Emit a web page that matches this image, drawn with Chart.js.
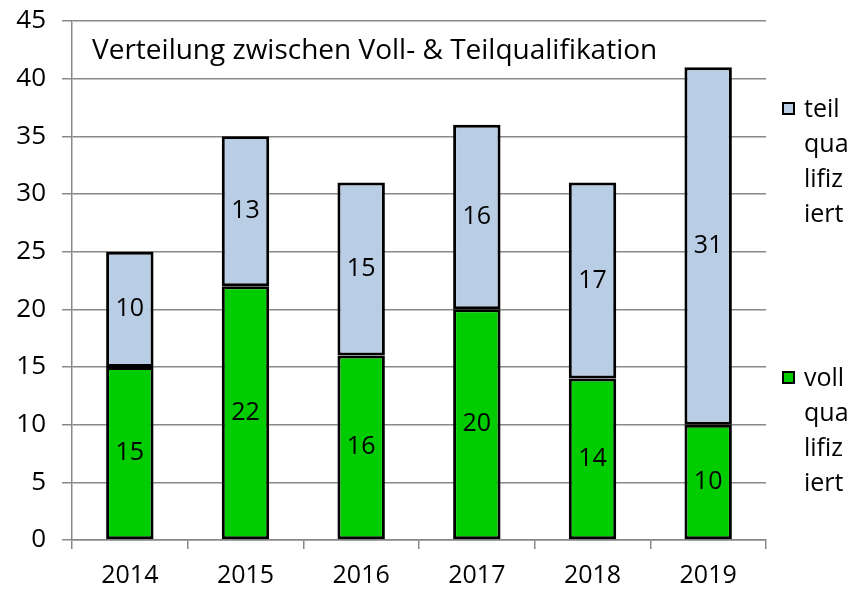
<!DOCTYPE html>
<html><head><meta charset="utf-8">
<script src="https://cdn.jsdelivr.net/npm/chart.js@4/dist/chart.umd.min.js"></script>
<style>
html,body{margin:0;padding:0;background:#fff;}
#wrap{position:relative;width:849px;height:591px;}
canvas{position:absolute;left:0;top:0;}
.lg{position:absolute;font-family:"Open Sans",sans-serif;font-size:25px;line-height:35px;color:#000;}
.sw{position:absolute;width:9px;height:9px;border:2px solid #000;}
</style></head>
<body><div id="wrap"><canvas id="c" width="849" height="591"></canvas>
<div class="sw" style="left:782px;top:102px;background:#B9CDE5"></div>
<div class="lg" style="left:804px;top:90px">teil<br>qua<br>lifiz<br>iert</div>
<div class="sw" style="left:782px;top:371px;background:#00CC00"></div>
<div class="lg" style="left:804px;top:359px">voll<br>qua<br>lifiz<br>iert</div>
</div>
<script>
const years = ["2014","2015","2016","2017","2018","2019"];
const vollValues = [15,22,16,20,14,10];
const teilValues = [10,13,15,16,17,31];
const seriesNames = ["voll qualifiziert","teil qualifiziert"];
const titleText = "Verteilung zwischen Voll- & Teilqualifikation";
const FONT = '"Open Sans", sans-serif';

const labelPlugin = {
  id:'vals',
  afterDatasetsDraw(chart){
    const ctx = chart.ctx;
    ctx.save();
    ctx.font = '25px ' + FONT;
    ctx.fillStyle = '#000';
    ctx.textAlign = 'center';
    ctx.textBaseline = 'middle';
    chart.data.datasets.forEach((ds,i)=>{
      chart.getDatasetMeta(i).data.forEach((bar,j)=>{
        const y = (bar.y + bar.base)/2;
        ctx.fillText(String(ds.data[j]), bar.x, y);
      });
    });
    const a = chart.chartArea;
    ctx.textAlign = 'left';
    ctx.font = '28px ' + FONT;
    ctx.fillText(titleText, a.left + 20, a.top + 30);
    ctx.restore();
  }
};

new Chart(document.getElementById('c'), {
  type:'bar',
  data:{
    labels: years,
    datasets:[
      {label:seriesNames[0], data:vollValues, backgroundColor:'#00CC00', borderColor:'#000', borderWidth:3, borderSkipped:false, categoryPercentage:1, barPercentage:0.41},
      {label:seriesNames[1], data:teilValues, backgroundColor:'#B9CDE5', borderColor:'#000', borderWidth:3, borderSkipped:false, categoryPercentage:1, barPercentage:0.41}
    ]
  },
  options:{
    responsive:false, animation:false,
    layout:{padding:{left:0,right:83,top:21,bottom:0}},
    plugins:{legend:{display:false}, tooltip:{enabled:false}, title:{display:false}},
    scales:{
      x:{stacked:true,
        grid:{display:true, drawOnChartArea:false, drawTicks:true, tickLength:9, color:'#888', lineWidth:1.5},
        border:{display:true, color:'#888', width:1.5},
        ticks:{font:{family:FONT,size:25}, color:'#000', padding:12},
        afterFit(s){ s.height = 51; s.paddingLeft = 0; s.paddingRight = 0; }
      },
      y:{stacked:true, min:0, max:45,
        grid:{color:'#888', lineWidth:1.5, tickLength:10},
        border:{display:true, color:'#888', width:1.5},
        ticks:{stepSize:5, font:{family:FONT,size:26}, color:'#000', padding:16},
        afterFit(s){ s.width = 72; s.paddingTop = 0; s.paddingBottom = 0; }
      }
    }
  },
  plugins:[labelPlugin]
});
</script></body></html>
